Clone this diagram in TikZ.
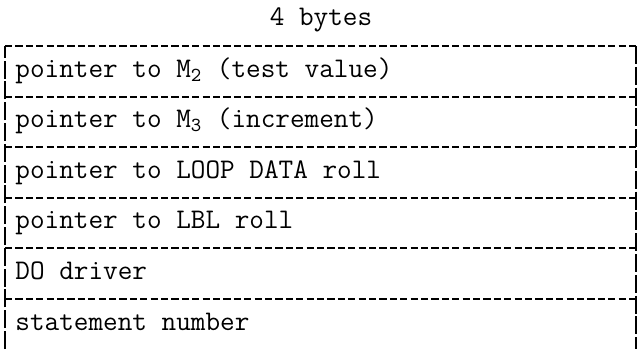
\documentclass[tikz,border=0pt]{standalone}
\usepackage{tikz}

\begin{document}
\begin{tikzpicture}[x=0.5pt, y=0.5pt,
    rowline/.style={line width=1pt, dash pattern=on 3.6pt off 1.6pt},
    sideline/.style={line width=1pt, dash pattern=on 9pt off 1.4pt},
    rowtext/.style={anchor=base west, inner sep=0pt,
      font=\ttfamily\fontsize{14.2}{16}\selectfont}]
        \useasboundingbox (0,0) rectangle (641,-349);
        \node[rowtext, anchor=base] (width) at (321,-25) {4 bytes};
        % outer frame, open at the bottom
        \draw[sideline] (5,-349) -- (5,-46);
        \draw[sideline] (636,-46) -- (636,-349);
        \draw[rowline] (5,-46) -- (636,-46);
        \draw[rowline] (5,-96.6) -- (636,-96.6);
        \draw[rowline] (5,-147.2) -- (636,-147.2);
        \draw[rowline] (5,-197.8) -- (636,-197.8);
        \draw[rowline] (5,-248.4) -- (636,-248.4);
        \draw[rowline] (5,-299) -- (636,-299);
        \node[rowtext] (testval) at (15,-77) {pointer to M\textsubscript{2} (test value)};
        \node[rowtext] (incr) at (15,-127.6) {pointer to M\textsubscript{3} (increment)};
        \node[rowtext] (loopdata) at (15,-178.2) {pointer to LOOP DATA roll};
        \node[rowtext] (lbl) at (15,-228.8) {pointer to LBL roll};
        \node[rowtext] (dodriver) at (15,-279.4) {DO driver};
        \node[rowtext] (stmtno) at (15,-330) {statement number};
      \end{tikzpicture}
\end{document}
